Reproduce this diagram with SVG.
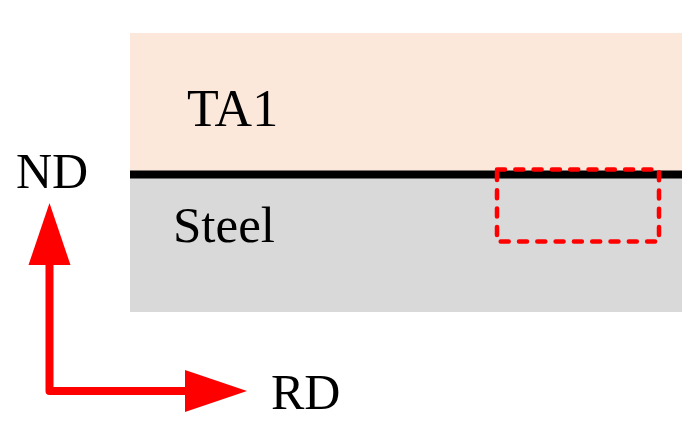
<svg xmlns="http://www.w3.org/2000/svg" width="685" height="440" viewBox="0 0 685 440">
<style>
.lbl{font-family:"Liberation Serif","Times New Roman",serif;fill:#000}
.ax{fill:none;stroke:#FF0000;stroke-width:8;stroke-linejoin:round}
.head{fill:#FF0000}
</style>
<rect width="685" height="440" fill="#FFFFFF"/>
<g id="ta1">
<rect x="130" y="33" width="552" height="142" fill="#FBE8DB"/>
<text class="lbl" x="187" y="126" font-size="52">TA1</text>
</g>
<g id="steel">
<rect x="130" y="175" width="552" height="137" fill="#D9D9D9"/>
<text class="lbl" x="173" y="242" font-size="51">Steel</text>
</g>
<g id="interface">
<line x1="130" y1="174.5" x2="682" y2="174.5" stroke="#000" stroke-width="8"/>
</g>
<g id="zoom-box">
<rect x="497" y="169.5" width="162" height="72" fill="none" stroke="#FF0000" stroke-width="4.5" stroke-linecap="round" stroke-dasharray="8 10.3"/>
</g>
<g id="axes">
<path class="ax" d="M49.5,262 L49.5,391 L188,391"/>
<polygon class="head" points="49.5,203 28.5,265 70.5,265"/>
<polygon class="head" points="247,391 185,370 185,412"/>
</g>
<g id="labels">
<text class="lbl" x="16" y="188" font-size="50">ND</text>
<text class="lbl" x="271" y="409" font-size="50">RD</text>
</g>
</svg>
